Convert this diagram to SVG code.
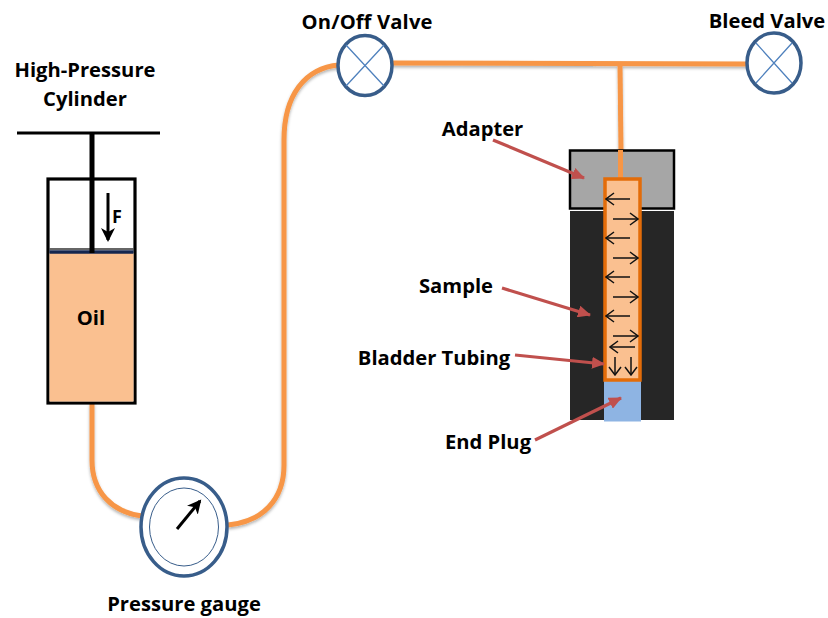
<svg xmlns="http://www.w3.org/2000/svg" width="828" height="618" viewBox="0 0 828 618">
<style>
text{font-family:"Open Sans","Noto Sans","Liberation Sans",sans-serif;font-weight:700;font-size:20.200px;fill:#000;text-anchor:middle}
.pipe{fill:none;stroke:#f79646;stroke-width:5}
.ring{fill:#fff;stroke:#385d8a;stroke-width:3.500}
.thin{fill:none;stroke:#4f81bd;stroke-width:1.300}
.ar{fill:none;stroke:#111;stroke-width:1.500}
.red{stroke:#c0504d;stroke-width:3.200;fill:none;marker-end:url(#rh)}
</style>
<defs>
<filter id="sh" x="0" y="0" width="828" height="618" filterUnits="userSpaceOnUse"><feDropShadow dx="0" dy="2" stdDeviation="1.500" flood-color="#000" flood-opacity="0.300"/></filter>
<marker id="rh" markerUnits="userSpaceOnUse" markerWidth="14" markerHeight="12" refX="12" refY="6" orient="auto"><path d="M0 0L13 6L0 12Z" fill="#c0504d"/></marker>
<marker id="ah" markerUnits="userSpaceOnUse" markerWidth="10" markerHeight="14" refX="9" refY="7" orient="auto"><path d="M1 1L9 7L1 13" fill="none" stroke="#111" stroke-width="1.500"/></marker>
<marker id="bh" markerUnits="userSpaceOnUse" markerWidth="16" markerHeight="16" refX="12" refY="7" orient="auto"><path d="M0 0L14 7L0 14L4 7Z" fill="#000"/></marker>
</defs>
<g id="connectors" filter="url(#sh)">
<path class="pipe" d="M92 403V460C92 492 112 512 142 516"/>
<path class="pipe" d="M228 525C262 522 284 500 284 465V140C284 95 305 68 339 65"/>
<path class="pipe" d="M391 63L749 64"/>
<path class="pipe" d="M620 64L621 151"/>
</g>
<g id="cylinder">
<rect x="48" y="179" width="87" height="224" fill="#fff" stroke="#000" stroke-width="3.200"/>
<rect x="49.500" y="253" width="84" height="148.500" fill="#fac090"/>
<path d="M49.500 249H133.500" stroke="#333" stroke-width="1.500"/>
<path d="M49.500 252H133.500" stroke="#14264f" stroke-width="3.500"/>
<path d="M17 133H160" stroke="#000" stroke-width="3"/>
<path d="M92 133V253" stroke="#000" stroke-width="5"/>
<path d="M108 193V240" stroke="#000" stroke-width="3" marker-end="url(#bh)"/>
<text x="117" y="223" style="font-size:18px">F</text>
<text x="91" y="325">Oil</text>
</g>
<g id="gauge">
<ellipse class="ring" cx="184" cy="527" rx="43" ry="49"/>
<ellipse cx="184" cy="527" rx="34.500" ry="39" fill="none" stroke="#385d8a" stroke-width="1"/>
<path d="M177 529L200 501" stroke="#000" stroke-width="3" marker-end="url(#bh)"/>
</g>
<g id="onoff-valve">
<ellipse class="ring" cx="365" cy="65.500" rx="27" ry="30"/>
<path class="thin" d="M346 45L384 86M384 45L346 86"/>
</g>
<g id="bleed-valve">
<ellipse class="ring" cx="774" cy="63" rx="27" ry="30"/>
<path class="thin" d="M756 43L792 83M792 43L756 83"/>
</g>
<g id="sample-assembly">
<rect x="570" y="211" width="104" height="209" fill="#262626"/>
<rect x="570" y="150.500" width="104" height="58" fill="#a6a6a6" stroke="#000" stroke-width="2.500"/>
<path d="M620.500 150V178" fill="none" stroke="#f79646" stroke-width="5"/>
<rect x="604" y="381" width="37" height="40.500" fill="#8eb4e3"/>
<rect x="605" y="179" width="35" height="201" fill="#fac090" stroke="#e36c09" stroke-width="3.500"/>
<g class="ar">
<path marker-end="url(#ah)" d="M630 199H606"/>
<path marker-end="url(#ah)" d="M613 219H638"/>
<path marker-end="url(#ah)" d="M630 238H606"/>
<path marker-end="url(#ah)" d="M613 258H638"/>
<path marker-end="url(#ah)" d="M630 277H606"/>
<path marker-end="url(#ah)" d="M613 297H638"/>
<path marker-end="url(#ah)" d="M630 316H606"/>
<path marker-end="url(#ah)" d="M613 336H638"/>
<path marker-end="url(#ah)" d="M635 347H610"/>
<path marker-end="url(#ah)" d="M615 357V375"/>
<path marker-end="url(#ah)" d="M631 357V375"/>
</g>
</g>
<g id="callouts">
<path class="red" d="M493 140L584 178"/>
<path class="red" d="M502 288L590 315"/>
<path class="red" d="M515 355L604 364"/>
<path class="red" d="M535 440L621 398"/>
</g>
<g id="labels">
<text x="85" y="77">High-Pressure</text>
<text x="85" y="106">Cylinder</text>
<text x="367" y="29" textLength="131">On/Off Valve</text>
<text x="767" y="28">Bleed Valve</text>
<text x="482.500" y="136">Adapter</text>
<text x="456" y="293">Sample</text>
<text x="434" y="365">Bladder Tubing</text>
<text x="488" y="449">End Plug</text>
<text x="184" y="611">Pressure gauge</text>
</g>
</svg>
